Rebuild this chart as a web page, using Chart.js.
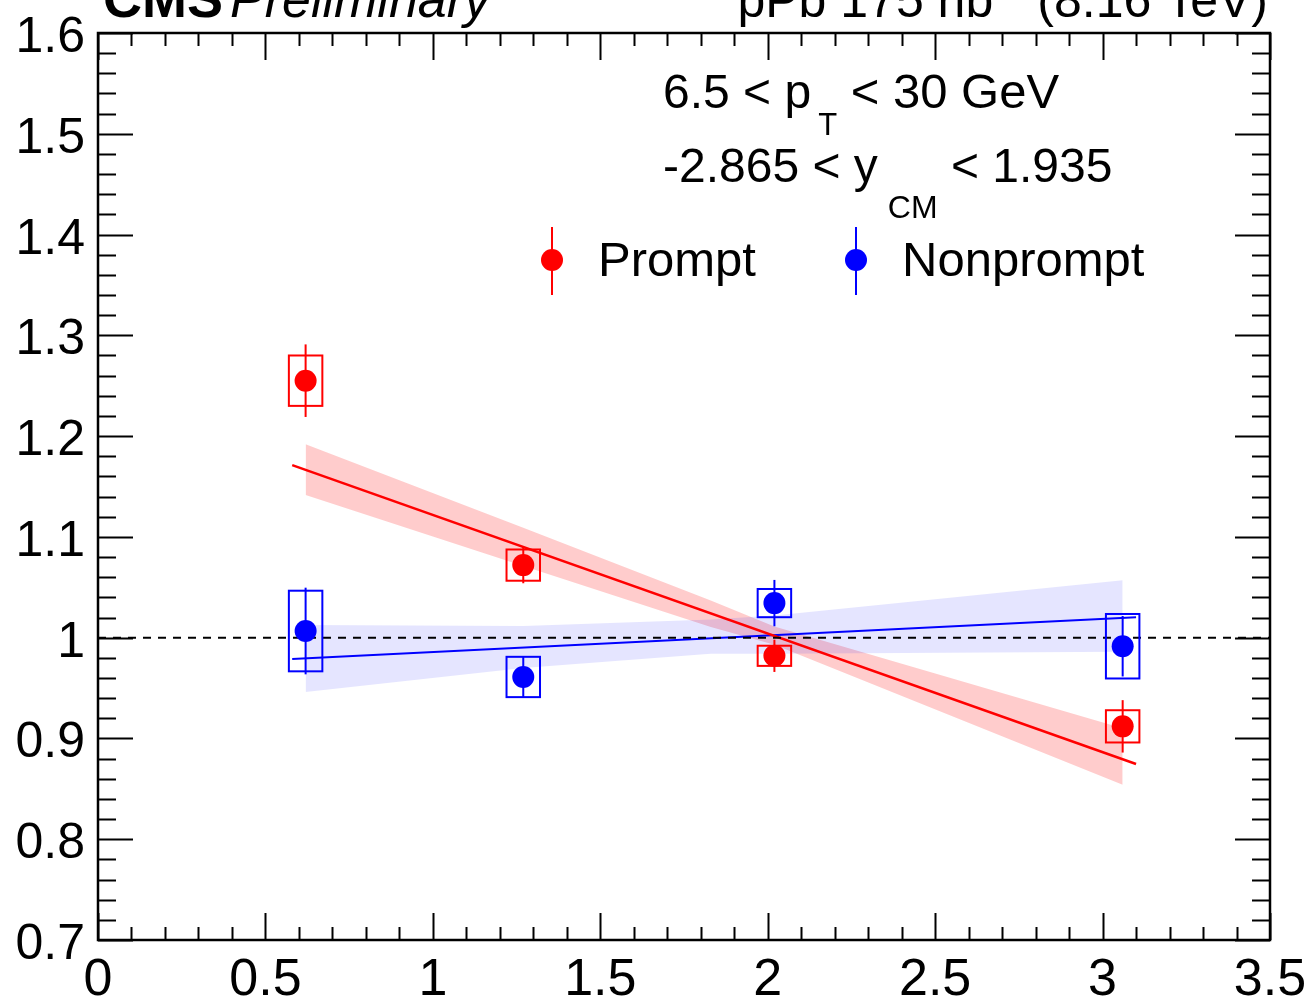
<!DOCTYPE html>
<html>
<head>
<meta charset="utf-8">
<script src="https://cdn.jsdelivr.net/npm/chart.js@4.4.0/dist/chart.umd.min.js"></script>
<style>
  body { margin: 0; background: #fff; }
  #wrap { width: 1308px; height: 1000px; }
</style>
</head>
<body>
<div id="wrap"><canvas id="c" width="1308" height="1000"></canvas></div>
<script>
// points (y bins)
const binX = [0.62, 1.27, 2.02, 3.06];
const boxHalfW = 0.05;

const promptY = [1.255, 1.072, 0.982, 0.912];
const promptStat = [0.036, 0.018, 0.016, 0.026];
const promptSyst = [0.025, 0.0155, 0.010, 0.016];

const nonpromptY = [1.0066, 0.961, 1.0343, 0.9915];
const nonpromptStat = [0.043, 0.020, 0.023, 0.030];
const nonpromptSyst = [0.040, 0.020, 0.014, 0.032];

// linear fits
const fitX = [0.58, 3.1];
const promptFit = [1.1712, 0.8746];
const nonpromptFit = [0.9788, 1.0203];

// fit uncertainty bands
const bandX = [0.62, 1.27, 1.83, 2.02, 3.06];
const promptBandHi = [1.192, 1.109, 1.037, 1.011, 0.910];
const promptBandLo = [1.1415, 1.071, 1.0105, 0.993, 0.854];
const nonpromptBandHi = [1.0125, 1.0115, 1.018, 1.022, 1.057];
const nonpromptBandLo = [0.946, 0.970, 0.984, 0.984, 0.986];

const refLineX = [0, 3.5];
const refLineY = [1, 1];

const xTicks = { min: 0, max: 3.5, major: 0.5, minor: 0.1 };
const yTicks = { min: 0.7, max: 1.6, major: 0.1, minor: 0.02 };

const RED = '#ff0000';
const BLUE = '#0000ff';
const FONT = '"Liberation Sans", Arial, Helvetica, sans-serif';

const toXY = (xs, ys) => xs.map((x, i) => ({ x: x, y: ys[i] }));
const fmt = v => String(+v.toFixed(2));

const rootStyle = {
  id: 'rootStyle',
  beforeDatasetDraw(chart, args) {
    if (args.index !== 8) return; // before the first marker set
    const ctx = chart.ctx;
    const xs = chart.scales.x, ys = chart.scales.y;
    const drawSet = (vals, stat, syst, color) => {
      ctx.save();
      ctx.strokeStyle = color;
      ctx.lineWidth = 2;
      vals.forEach((v, i) => {
        const px = xs.getPixelForValue(binX[i]);
        const x0 = xs.getPixelForValue(binX[i] - boxHalfW);
        const x1 = xs.getPixelForValue(binX[i] + boxHalfW);
        const yt = ys.getPixelForValue(v + syst[i]);
        const yb = ys.getPixelForValue(v - syst[i]);
        ctx.strokeRect(x0, yt, x1 - x0, yb - yt);
        ctx.beginPath();
        ctx.moveTo(px, ys.getPixelForValue(v + stat[i]));
        ctx.lineTo(px, ys.getPixelForValue(v - stat[i]));
        ctx.stroke();
      });
      ctx.restore();
    };
    drawSet(promptY, promptStat, promptSyst, RED);
    drawSet(nonpromptY, nonpromptStat, nonpromptSyst, BLUE);
  },
  afterDraw(chart) {
    const ctx = chart.ctx;
    const a = chart.chartArea;
    const xs = chart.scales.x, ys = chart.scales.y;
    ctx.save();
    ctx.strokeStyle = '#000';
    ctx.lineWidth = 2;
    // x ticks (bottom + top)
    const nx = Math.round((xTicks.max - xTicks.min) / xTicks.minor);
    for (let i = 0; i <= nx; i++) {
      const v = xTicks.min + i * xTicks.minor;
      const px = Math.round(xs.getPixelForValue(v)) + 0.5;
      const len = (i % 5 === 0) ? 27 : 13;
      ctx.beginPath();
      ctx.moveTo(px, a.bottom); ctx.lineTo(px, a.bottom - len);
      ctx.moveTo(px, a.top); ctx.lineTo(px, a.top + len);
      ctx.stroke();
    }
    // y ticks (left + right)
    const ny = Math.round((yTicks.max - yTicks.min) / yTicks.minor);
    for (let i = 0; i <= ny; i++) {
      const v = yTicks.min + i * yTicks.minor;
      const py = Math.round(ys.getPixelForValue(v)) + 0.5;
      const len = (i % 5 === 0) ? 35 : 18;
      ctx.beginPath();
      ctx.moveTo(a.left, py); ctx.lineTo(a.left + len, py);
      ctx.moveTo(a.right, py); ctx.lineTo(a.right - len, py);
      ctx.stroke();
    }
    // frame
    ctx.lineWidth = 2.5;
    ctx.strokeRect(a.left, a.top, a.right - a.left, a.bottom - a.top);

    // axis labels from the scales' own ticks
    ctx.fillStyle = '#000';
    ctx.textBaseline = 'alphabetic';
    ctx.font = '52px ' + FONT;
    ctx.textAlign = 'center';
    xs.ticks.forEach(t => ctx.fillText(fmt(t.value), xs.getPixelForValue(t.value), 995));
    ctx.font = '50px ' + FONT;
    ctx.textAlign = 'right';
    ys.ticks.forEach(t => ctx.fillText(fmt(t.value), 85, ys.getPixelForValue(t.value) + 19));

    // header
    ctx.textAlign = 'left';
    ctx.font = 'bold 54px ' + FONT;
    ctx.fillText('CMS', 103, 17);
    ctx.font = 'italic 52px ' + FONT;
    ctx.fillText('Preliminary', 230, 17);

    // right header: pPb 175 nb^-1 (8.16 TeV)
    const partA = 'pPb 175 nb', partC = ' (8.16 TeV)';
    ctx.font = '34px ' + FONT;
    const wSup = ctx.measureText('-1').width;
    ctx.font = '50px ' + FONT;
    const wA = ctx.measureText(partA).width, wC = ctx.measureText(partC).width;
    let hx = 1268 - (wA + wSup + wC);
    ctx.fillText(partA, hx, 17); hx += wA;
    ctx.font = '34px ' + FONT;
    ctx.fillText('-1', hx, -5); hx += wSup;
    ctx.font = '50px ' + FONT;
    ctx.fillText(partC, hx, 17);

    // kinematic labels
    const drawSub = (x, y, parts) => {
      parts.forEach(p => {
        x += p.gap || 0;
        ctx.font = p.size + 'px ' + FONT;
        ctx.fillText(p.t, x, y + (p.dy || 0));
        x += ctx.measureText(p.t).width;
      });
    };
    drawSub(663, 108, [
      { t: '6.5 < p', size: 48 },
      { t: 'T', size: 31, dy: 27, gap: 7 },
      { t: ' < 30 GeV', size: 49 }
    ]);
    drawSub(663, 182, [
      { t: '-2.865 < y', size: 48 },
      { t: 'CM', size: 32, dy: 36, gap: 10 },
      { t: ' < 1.935', size: 48 }
    ]);

    // legend
    const legend = [
      { label: 'Prompt', color: RED, x: 552 },
      { label: 'Nonprompt', color: BLUE, x: 856 }
    ];
    legend.forEach(l => {
      ctx.strokeStyle = l.color;
      ctx.fillStyle = l.color;
      ctx.lineWidth = 2;
      ctx.beginPath();
      ctx.moveTo(l.x, 227); ctx.lineTo(l.x, 295);
      ctx.stroke();
      ctx.beginPath();
      ctx.arc(l.x, 260, 11, 0, Math.PI * 2);
      ctx.fill();
      ctx.fillStyle = '#000';
      ctx.font = '49px ' + FONT;
      ctx.fillText(l.label, l.x + 46, 276);
    });
    ctx.restore();
  }
};

new Chart(document.getElementById('c').getContext('2d'), {
  type: 'scatter',
  data: {
    datasets: [
      { type: 'line', label: 'prompt band lo', data: toXY(bandX, promptBandLo), borderWidth: 0, pointRadius: 0, fill: false, order: 10 },
      { type: 'line', label: 'prompt band hi', data: toXY(bandX, promptBandHi), borderWidth: 0, pointRadius: 0, fill: '-1', backgroundColor: 'rgba(255,0,0,0.2)', order: 10 },
      { type: 'line', label: 'nonprompt band lo', data: toXY(bandX, nonpromptBandLo), borderWidth: 0, pointRadius: 0, fill: false, order: 9 },
      { type: 'line', label: 'nonprompt band hi', data: toXY(bandX, nonpromptBandHi), borderWidth: 0, pointRadius: 0, fill: '-1', backgroundColor: 'rgba(0,0,255,0.1)', order: 9 },
      { type: 'line', label: 'prompt fit', data: toXY(fitX, promptFit), borderColor: RED, borderWidth: 2.5, pointRadius: 0, fill: false, order: 5 },
      { type: 'line', label: 'nonprompt fit', data: toXY(fitX, nonpromptFit), borderColor: BLUE, borderWidth: 2, pointRadius: 0, fill: false, order: 5 },
      { type: 'line', label: 'unity', data: toXY(refLineX, refLineY), borderColor: '#000', borderWidth: 2, borderDash: [8, 7], pointRadius: 0, fill: false, order: 4 },
      { label: 'Nonprompt', data: toXY(binX, nonpromptY), backgroundColor: BLUE, borderWidth: 0, pointRadius: 11, order: 0 },
      { label: 'Prompt', data: toXY(binX, promptY), backgroundColor: RED, borderWidth: 0, pointRadius: 11, order: 1 }
    ]
  },
  options: {
    responsive: false,
    animation: false,
    devicePixelRatio: 1,
    layout: { padding: { top: 33, right: 38, left: 0, bottom: 0 } },
    plugins: { legend: { display: false }, tooltip: { enabled: false } },
    scales: {
      x: {
        type: 'linear', min: xTicks.min, max: xTicks.max,
        grid: { display: false, drawTicks: false },
        border: { display: false },
        ticks: { display: false, stepSize: xTicks.major },
        afterFit: s => { s.height = 60; }
      },
      y: {
        type: 'linear', min: yTicks.min, max: yTicks.max,
        grid: { display: false, drawTicks: false },
        border: { display: false },
        ticks: { display: false, stepSize: yTicks.major },
        afterFit: s => { s.width = 98; }
      }
    }
  },
  plugins: [rootStyle]
});
</script>
</body>
</html>
